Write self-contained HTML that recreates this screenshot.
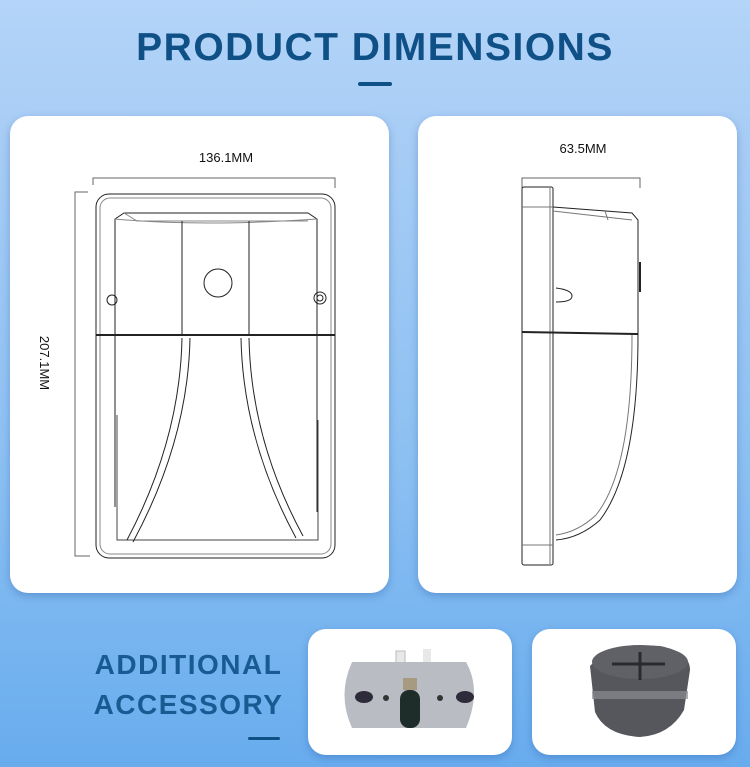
<!DOCTYPE html>
<html><head><meta charset="utf-8"><style>
body{margin:0;width:750px;height:767px;overflow:hidden;background:linear-gradient(#b4d4f8 0%,#a6ccf5 20%,#8cc0f2 60%,#68acee 100%);font-family:"Liberation Sans",sans-serif;position:relative}
.card{position:absolute;background:#fff;border-radius:18px;box-shadow:0 3px 8px rgba(40,90,160,.35)}
h1{position:absolute;left:0;width:750px;top:26px;margin:0;text-align:center;font-size:39px;font-weight:bold;color:#0f5087;letter-spacing:1.5px}
.dash{position:absolute;height:4px;border-radius:2px;background:#0f5087}
.acc{position:absolute;left:86px;width:205px;text-align:center;font-size:28px;font-weight:bold;color:#185a92;letter-spacing:1.5px;line-height:40px;top:645px}
svg{position:absolute;left:0;top:0}
</style></head><body>
<h1>PRODUCT DIMENSIONS</h1>
<div class="dash" style="left:358px;top:82px;width:34px"></div>
<div class="card" style="left:10px;top:116px;width:379px;height:477px"></div>
<div class="card" style="left:418px;top:116px;width:319px;height:477px"></div>
<div class="card" style="left:308px;top:629px;width:204px;height:126px"></div>
<div class="card" style="left:532px;top:629px;width:204px;height:126px"></div>
<div class="acc">ADDITIONAL<br>ACCESSORY</div>
<div class="dash" style="left:248px;top:737px;width:32px;height:3px"></div>
<svg width="750" height="767" fill="none" stroke="#222" stroke-width="1">
<text x="226" y="162" font-size="13" fill="#111" stroke="none" text-anchor="middle">136.1MM</text>
<text x="0" y="0" font-size="13" fill="#111" stroke="none" text-anchor="middle" transform="translate(40,363) rotate(90)">207.1MM</text>
<text x="583" y="153" font-size="13" fill="#111" stroke="none" text-anchor="middle">63.5MM</text>
<g stroke="#666">
<path d="M93 185V178H335V188"/><path d="M88 192H75V556H90"/>
<path d="M522 188V178H640V188"/>
</g>
<rect x="96" y="194" width="239" height="364" rx="13"/>
<rect x="100" y="198" width="231" height="356" rx="10" stroke="#888"/>
<path d="M115 507V219L124 213H308L317 219V512"/>
<path d="M124 213L137 221H308" stroke="#888"/><path d="M115 219Q200 227 317 219" stroke="#888"/>
<path d="M182 221V335M249 221V335"/>
<circle cx="218" cy="283" r="14"/>
<circle cx="112" cy="300" r="5"/><circle cx="320" cy="298" r="6"/><circle cx="320" cy="298" r="3"/>
<path d="M96 335H335" stroke-width="2"/>
<path d="M117 415V540H318V420" stroke="#444"/>
<path d="M182 338Q180 440 127 540M190 338Q188 440 133 542"/>
<path d="M241 338Q243 440 296 538M249 338Q251 440 303 536"/>
<rect x="522" y="187" width="31" height="378" rx="2"/>
<path d="M550 188V564M522 207H553M522 545H553" stroke="#777"/>
<path d="M553 207L632 213L638 220V335Q638 470 600 520Q580 538 556 540"/>
<path d="M553 211L632 220M605 211L608 220" stroke="#777"/>
<path d="M632 335Q632 470 596 515Q578 532 556 535" stroke="#777"/>
<path d="M556 288Q572 290 572 296Q572 302 556 302"/>
<path d="M522 332L638 334" stroke-width="2"/>
<path d="M640 262V292" stroke-width="2"/>
<!-- sensor -->
<g stroke="none">
<rect x="396" y="651" width="9" height="14" fill="#e8e8e8" stroke="#bbb"/>
<rect x="423" y="649" width="8" height="16" fill="#e8e8e8"/>
<path d="M352 662H466Q482 690 466 728H352Q337 695 352 662Z" fill="#b9bcc2"/>
<ellipse cx="364" cy="697" rx="9" ry="6" fill="#2e2b3a"/>
<ellipse cx="465" cy="697" rx="9" ry="6" fill="#2e2b3a"/>
<rect x="403" y="678" width="14" height="12" fill="#a69a80"/>
<rect x="400" y="690" width="20" height="38" rx="9" fill="#1f2d2a"/>
<circle cx="386" cy="698" r="3" fill="#333"/><circle cx="440" cy="698" r="3" fill="#333"/>
<!-- plug -->
<path d="M590 666Q610 643 660 646Q690 652 690 670L684 710Q670 735 640 737Q605 735 595 712Z" fill="#55575c"/>
<ellipse cx="640" cy="662" rx="48" ry="17" fill="#5f6166"/>
<rect x="592" y="691" width="96" height="8" fill="#8a8c90" opacity=".7"/>
<path d="M612 664H665M640 652V680" stroke="#2a2a2e" stroke-width="3"/>
</g>
</svg>
</body></html>
